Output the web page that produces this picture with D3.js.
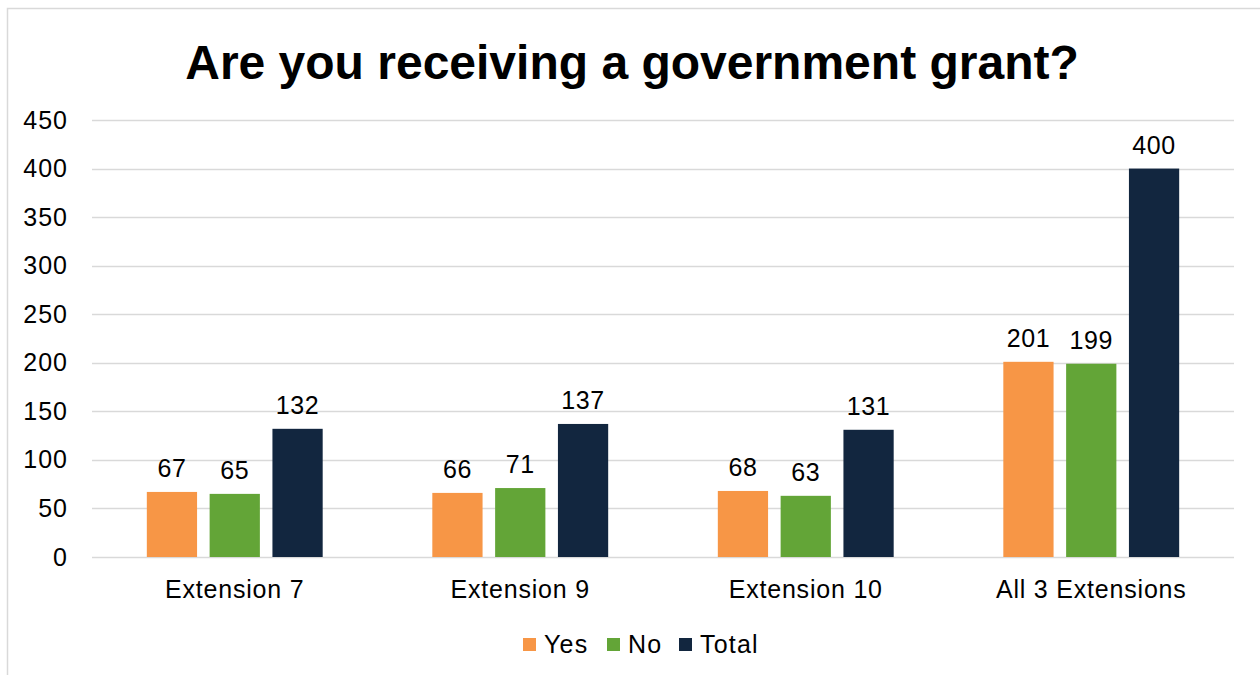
<!DOCTYPE html>
<html>
<head>
<meta charset="utf-8">
<script src="https://cdnjs.cloudflare.com/ajax/libs/d3/7.8.5/d3.min.js"></script>
<style>
  body { margin: 0; background: #fff; }
  text { font-family: "Liberation Sans", Arial, sans-serif; fill: #000; }
</style>
</head>
<body>
<div id="chart"></div>
<script>
// chart data
var categories = ["Extension 7", "Extension 9", "Extension 10", "All 3 Extensions"];
var seriesNames = ["Yes", "No", "Total"];
var yesValues = [67, 66, 68, 201];
var noValues = [65, 71, 63, 199];
var totalValues = [132, 137, 131, 400];
var yTicks = [0, 50, 100, 150, 200, 250, 300, 350, 400, 450];

var colors = {Yes: "#F79646", No: "#63A537", Total: "#12263F"};

var svgWidth = 1260;
var svgHeight = 675;

var plot = {left: 92, right: 1234, top: 120, bottom: 557};

var svg = d3.select("#chart")
  .append("svg")
  .attr("width", svgWidth)
  .attr("height", svgHeight);

// outer frame
svg.append("rect")
  .attr("x", 7.5)
  .attr("y", 8.5)
  .attr("width", 1270)
  .attr("height", 700)
  .attr("fill", "none")
  .attr("stroke", "#d9d9d9")
  .attr("stroke-width", 1.5);

// build rows
var rows = categories.map(function(c, i) {
  return {cat: c, Yes: yesValues[i], No: noValues[i], Total: totalValues[i]};
});

// scales
var x0 = d3.scaleBand()
  .domain(categories)
  .range([plot.left, plot.right])
  .paddingInner(0.384)
  .paddingOuter(0.192);

var x1 = d3.scaleBand()
  .domain(seriesNames)
  .range([0, x0.bandwidth()])
  .paddingInner(0.2);

var y = d3.scaleLinear()
  .domain([0, 450])
  .range([plot.bottom, plot.top]);

// gridlines
svg.append("g")
  .selectAll("line")
  .data(yTicks)
  .enter()
  .append("line")
  .attr("x1", plot.left)
  .attr("x2", plot.right)
  .attr("y1", d => Math.round(y(d)) + 0.5)
  .attr("y2", d => Math.round(y(d)) + 0.5)
  .attr("stroke", "#d9d9d9")
  .attr("stroke-width", 1.5);

// y axis labels
var leftAxis = d3.axisLeft(y).tickValues(yTicks).tickSize(0).tickPadding(24);
var yAxisG = svg.append("g")
  .attr("transform", `translate(${plot.left}, 0)`)
  .call(leftAxis);
yAxisG.select(".domain").remove();
yAxisG.selectAll("text")
  .attr("font-size", "25px")
  .attr("letter-spacing", "1px")
  .attr("font-family", "Liberation Sans, Arial, sans-serif")
  .attr("fill", "#000");

// x axis labels
var bottomAxis = d3.axisBottom(x0).tickSize(0).tickPadding(23);
var xAxisG = svg.append("g")
  .attr("transform", `translate(0, ${plot.bottom})`)
  .call(bottomAxis);
xAxisG.select(".domain").remove();
xAxisG.selectAll("text")
  .attr("font-size", "25px")
  .attr("letter-spacing", "0.8px")
  .attr("font-family", "Liberation Sans, Arial, sans-serif")
  .attr("fill", "#000");

// bars
var groups = svg.append("g")
  .selectAll("g")
  .data(rows)
  .enter()
  .append("g")
  .attr("transform", d => `translate(${x0(d.cat)}, 0)`);

groups.selectAll("rect")
  .data(d => seriesNames.map(s => ({key: s, value: d[s]})))
  .enter()
  .append("rect")
  .attr("x", d => x1(d.key))
  .attr("y", d => y(d.value))
  .attr("width", x1.bandwidth())
  .attr("height", d => y(0) - y(d.value))
  .attr("fill", d => colors[d.key]);

// value labels
groups.selectAll("text")
  .data(d => seriesNames.map(s => ({key: s, value: d[s]})))
  .enter()
  .append("text")
  .attr("x", d => x1(d.key) + x1.bandwidth() / 2)
  .attr("y", d => y(d.value) - 15)
  .attr("text-anchor", "middle")
  .attr("font-size", "25px")
  .attr("letter-spacing", "0.6px")
  .text(d => d.value);

// title
svg.append("text")
  .attr("x", 632)
  .attr("y", 79)
  .attr("text-anchor", "middle")
  .attr("font-size", "48px")
  .attr("font-weight", "bold")
  .text("Are you receiving a government grant?");

// legend
var legendX = [523, 607, 679];
var legend = svg.append("g");
seriesNames.forEach(function(s, i) {
  legend.append("rect")
    .attr("x", legendX[i])
    .attr("y", 638)
    .attr("width", 13)
    .attr("height", 13)
    .attr("fill", colors[s]);
  legend.append("text")
    .attr("x", legendX[i] + 21)
    .attr("y", 653)
    .attr("font-size", "25px")
    .attr("letter-spacing", "1.2px")
    .text(s);
});
</script>
</body>
</html>
